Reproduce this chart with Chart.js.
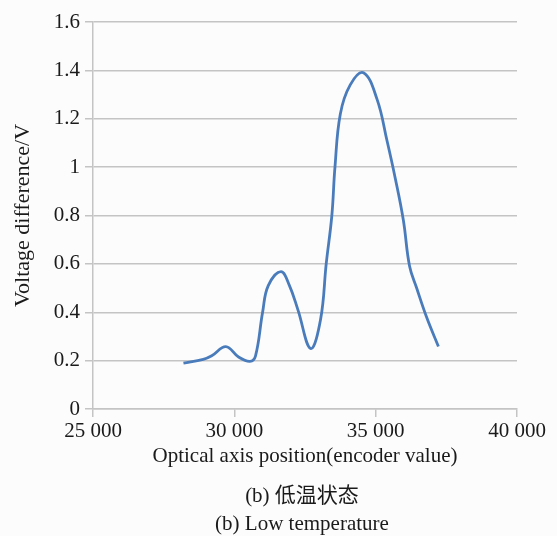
<!DOCTYPE html>
<html>
<head>
<meta charset="utf-8">
<script src="https://cdn.jsdelivr.net/npm/chart.js@4"></script>
<style>
  html, body { margin: 0; padding: 0; background: #fcfcfc; }
  #wrap { position: relative; width: 557px; height: 536px; }
  .cap {
    position: absolute; left: 90px; width: 424px; text-align: center;
    font-family: "Liberation Serif", "Noto Sans CJK SC", serif;
    font-size: 21px; line-height: 24px; color: #1a1a1a;
  }
</style>
</head>
<body>
<div id="wrap">
  <canvas id="chart" width="557" height="536"></canvas>
  <div class="cap" style="top:483px">(b) 低温状态</div>
  <div class="cap" style="top:511px">(b) Low temperature</div>
</div>
<script>
// encoder position vs voltage difference
const positions = [28200, 28900, 29200, 29700, 30150, 30550, 30750, 31000, 31200, 31650,
                   31950, 32250, 32700, 33050, 33250, 33450, 33560, 33750, 34100, 34570,
                   35050, 35400, 35700, 35980, 36200, 36450, 36800, 37220]
const voltages = [0.19, 0.205, 0.22, 0.258, 0.215, 0.197, 0.22, 0.40, 0.51, 0.568,
                  0.51, 0.41, 0.25, 0.37, 0.60, 0.80, 1.00, 1.22, 1.34, 1.39,
                  1.28, 1.11, 0.95, 0.78, 0.59, 0.50, 0.38, 0.258]

const xTicks = [25000, 30000, 35000, 40000]
const xTickLabels = ['25 000', '30 000', '35 000', '40 000']
const yTicks = [0, 0.2, 0.4, 0.6, 0.8, 1, 1.2, 1.4, 1.6]
const yTickLabels = ['0', '0.2', '0.4', '0.6', '0.8', '1', '1.2', '1.4', '1.6']

const serif = "'Liberation Serif', 'Times New Roman', serif"
const grey = '#c4c4c4'
const ink = '#1a1a1a'

const ctx = document.getElementById('chart').getContext('2d')
new Chart(ctx, {
  type: 'line',
  data: {
    datasets: [{
      data: positions.map((p, i) => ({ x: p, y: voltages[i] })),
      borderColor: '#4a7cbc',
      borderWidth: 2.8,
      pointRadius: 0,
      tension: 0.4,
      fill: false
    }]
  },
  options: {
    responsive: false,
    animation: false,
    layout: { padding: { left: 0, right: 40, top: 22, bottom: 67 } },
    plugins: { legend: { display: false }, tooltip: { enabled: false } },
    scales: {
      x: {
        type: 'linear',
        min: 25000,
        max: 40000,
        afterBuildTicks: s => { s.ticks = xTicks.map(v => ({ value: v })) },
        afterFit: s => { s.height = 60 },
        grid: { drawOnChartArea: false, color: grey, lineWidth: 1.5, tickLength: 8 },
        border: { color: grey, width: 1.5 },
        ticks: {
          padding: 2,
          maxRotation: 0,
          color: ink,
          font: { family: serif, size: 21 },
          callback: (v, i) => xTickLabels[i]
        },
        title: {
          display: true,
          text: 'Optical axis position(encoder value)',
          color: ink,
          font: { family: serif, size: 21 },
          padding: { top: 0, bottom: 0 }
        }
      },
      y: {
        min: 0,
        max: 1.6,
        afterBuildTicks: s => { s.ticks = yTicks.map(v => ({ value: v })) },
        afterFit: s => { s.width = 93 },
        grid: { color: grey, lineWidth: 1.5, tickLength: 8 },
        border: { color: grey, width: 1.5 },
        ticks: {
          padding: 5,
          color: ink,
          font: { family: serif, size: 21 },
          callback: (v, i) => yTickLabels[i]
        },
        title: {
          display: true,
          text: 'Voltage difference/V',
          color: ink,
          font: { family: serif, size: 22 },
          padding: { top: 10, bottom: 0 }
        }
      }
    }
  }
})
</script>
</body>
</html>
